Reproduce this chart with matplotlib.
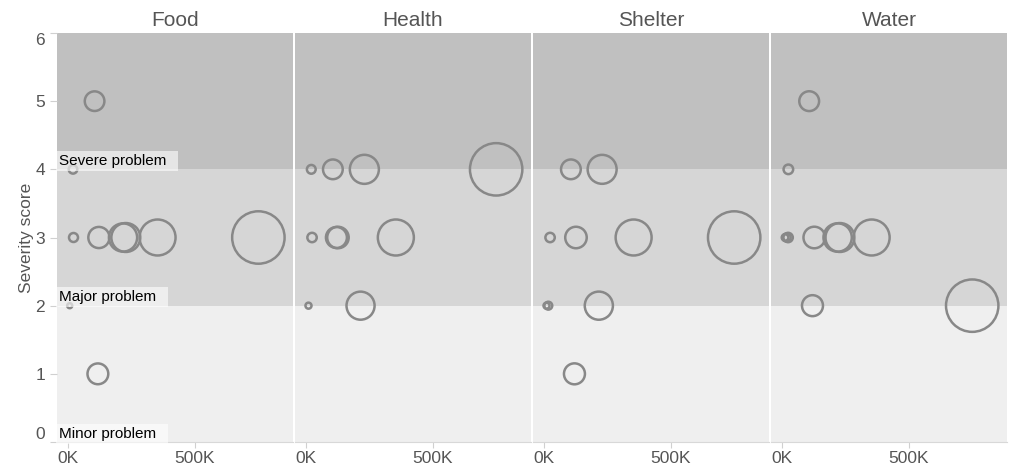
import matplotlib
matplotlib.use("Agg")
import matplotlib.pyplot as plt

plt.rcParams.update({
    "font.family": ["Liberation Sans", "DejaVu Sans"],
    "font.size": 12,
})

# population affected (thousands) vs severity score, one panel per sector
SECTORS = ["Food", "Health", "Shelter", "Water"]
food_x = [105, 20, 22, 122, 217, 228, 353, 750, 7, 118]
food_y = [5, 4, 3, 3, 3, 3, 3, 3, 2, 1]
health_x = [21, 106, 230, 749, 24, 120, 126, 354, 10, 215]
health_y = [4, 4, 4, 4, 3, 3, 3, 3, 2, 2]
shelter_x = [106, 229, 24, 126, 353, 749, 10, 17, 216, 120]
shelter_y = [4, 4, 3, 3, 3, 3, 2, 2, 2, 1]
water_x = [107, 25, 12, 18, 24, 127, 219, 228, 353, 120, 749]
water_y = [5, 4, 3, 3, 3, 3, 3, 3, 3, 2, 2]

BANDS = [(0, 2, "#efefef"), (2, 4, "#d6d6d6"), (4, 6, "#c0c0c0")]
BAND_LABELS = [(4, "Severe problem"), (2, "Major problem"), (0, "Minor problem")]
Y_TICKS = [0, 1, 2, 3, 4, 5, 6]
X_TICKS = [0, 500]

data = {"Food": (food_x, food_y), "Health": (health_x, health_y),
        "Shelter": (shelter_x, shelter_y), "Water": (water_x, water_y)}

fig = plt.figure(figsize=(10.17, 4.71), dpi=100)
left, right, bottom, top = 57 / 1017, 1007 / 1017, 1 - 442 / 471, 1 - 33 / 471
fig.subplots_adjust(left=left, right=right, bottom=bottom, top=top, wspace=0.009)
axes = fig.subplots(1, 4, sharey=True)

for ax, name in zip(axes, SECTORS):
    xs, ys = data[name]
    for lo, hi, c in BANDS:
        ax.axhspan(lo, hi, color=c, lw=0, zorder=0)
    ax.scatter(xs, ys, s=[1.9 * v for v in xs], facecolors="none",
               edgecolors="#888888", linewidths=1.8, zorder=2)
    ax.set_xlim(-43, 886)
    ax.set_ylim(0, 6)
    ax.set_xticks(X_TICKS)
    ax.set_xticklabels([f"{t}K" for t in X_TICKS])
    ax.set_title(name, fontsize=15, color="#555555", pad=5)
    for s in ["top", "right", "left"]:
        ax.spines[s].set_visible(False)
    ax.spines["bottom"].set_color("#d8d8d8")
    ax.tick_params(axis="x", colors="#d0d0d0", labelcolor="#555555",
                   length=4, width=0.8, labelsize=12.5, pad=2.5)
    ax.tick_params(axis="y", left=False, labelleft=False)

ax0 = axes[0]
ax0.tick_params(axis="y", left=True, labelleft=True, colors="#d0d0d0",
                labelcolor="#555555", length=5, width=0.8, labelsize=12.5)
ax0.set_yticks(Y_TICKS)
labels = ax0.get_yticklabels()
labels[0].set_verticalalignment("bottom")
labels[-1].set_verticalalignment("top")
ax0.set_ylabel("Severity score", fontsize=12.5, color="#555555", labelpad=1)

for yv, txt in BAND_LABELS:
    ax0.text(-35, yv + 0.02, txt + "  ", fontsize=11, color="black", ha="left",
             va="bottom", zorder=5,
             bbox=dict(boxstyle="square,pad=0.2", fc="white", ec="none", alpha=0.6))

fig.savefig("out.png", dpi=100)
